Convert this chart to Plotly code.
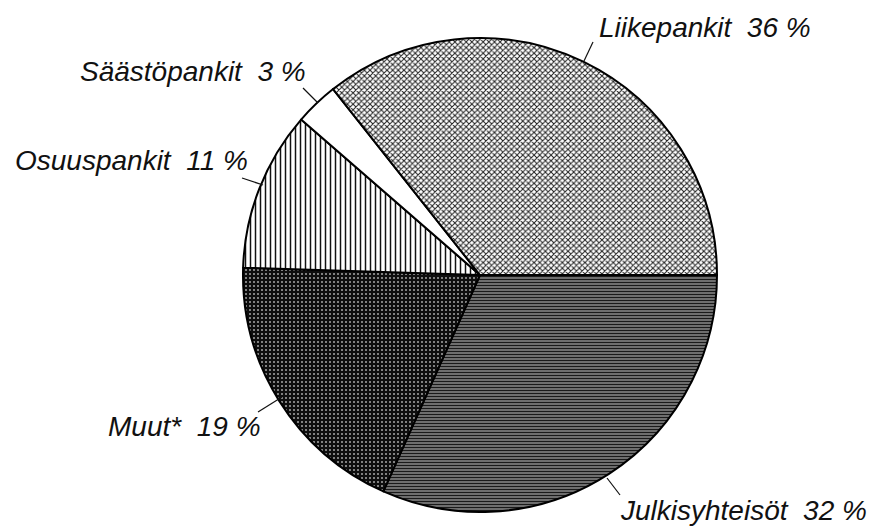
import plotly.graph_objects as go

# browser body has an 8px default margin: the figure starts at (8, 8) in the window
OFF = 8
WIN_W, WIN_H = 878, 529
FW, FH = WIN_W - OFF, WIN_H - OFF

# slices listed clockwise from 3 o'clock
labels = ["Julkisyhteisöt", "Muut*", "Osuuspankit", "Säästöpankit", "Liikepankit"]
values = [32, 19, 11, 3, 36]
label_texts = ["Julkisyhteisöt  32 %", "Muut*  19 %", "Osuuspankit  11 %",
               "Säästöpankit  3 %", "Liikepankit  36 %"]

# pie geometry in window pixels
cx, cy, r = 480, 275, 237

def px(x):
    return (x - OFF) / FW

def py(y):
    return 1 - (y - OFF) / FH

patterns = [
    dict(shape="-", fgcolor="#1a1a1a", bgcolor="#8a8a8a", size=3, solidity=0.5),
    dict(shape=".", fgcolor="#a8a8a8", bgcolor="#0e0e0e", size=4, solidity=0.2),
    dict(shape="|", fgcolor="#111111", bgcolor="#ffffff", size=5, solidity=0.3),
    dict(shape="", fgcolor="#000000", bgcolor="#ffffff", size=8, solidity=0.3),
    dict(shape="x", fgcolor="#222222", bgcolor="#ffffff", size=4, solidity=0.45),
]

fig = go.Figure(go.Pie(
    labels=labels, values=values, sort=False, direction="clockwise",
    rotation=90, textinfo="none", hoverinfo="label+percent",
    marker=dict(colors=["#ffffff"] * 5, line=dict(color="#000000", width=2),
                pattern=dict(
                    shape=[p["shape"] for p in patterns],
                    fgcolor=[p["fgcolor"] for p in patterns],
                    bgcolor=[p["bgcolor"] for p in patterns],
                    size=[p["size"] for p in patterns],
                    solidity=[p["solidity"] for p in patterns],
                    fillmode="replace")),
    domain=dict(x=[px(cx - r), px(cx + r)], y=[py(cy + r), py(cy - r)]),
    showlegend=False,
))

# label anchor: (x, baseline y, xanchor) in window pixels
label_pos = [(618, 520, "left"), (263, 436, "right"), (250, 171, "right"),
             (308, 81, "right"), (597, 37, "left")]
leaders = [((607, 478), (620, 495)), ((258, 412), (282, 397)), ((242, 178), (263, 185)),
           ((303, 88), (318, 103)), ((593, 42), (584, 61))]

fs = 28
for t, (x, yb, xa) in zip(label_texts, label_pos):
    fig.add_annotation(x=px(x), y=py(yb - 10), xref="paper", yref="paper",
                       text="<i>" + t.replace("  ", "\u00a0\u00a0") + "</i>",
                       showarrow=False, xanchor=xa, yanchor="middle",
                       font=dict(family="Liberation Sans, Arial, sans-serif", size=fs, color="#111111"))

for (a, b) in leaders:
    fig.add_shape(type="line", xref="paper", yref="paper",
                  x0=px(a[0]), y0=py(a[1]), x1=px(b[0]), y1=py(b[1]),
                  line=dict(color="#111111", width=1.2))

fig.update_layout(width=FW, height=FH, margin=dict(l=0, r=0, t=0, b=0),
                  paper_bgcolor="#ffffff", plot_bgcolor="#ffffff")

fig.write_html("out.html")
